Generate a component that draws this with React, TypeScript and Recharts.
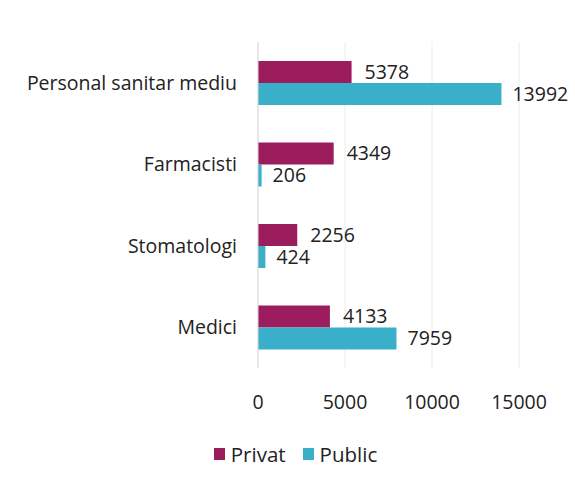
import { BarChart, Bar, XAxis, YAxis, CartesianGrid, Legend, LabelList } from 'recharts';

const categories = ['Personal sanitar mediu', 'Farmacisti', 'Stomatologi', 'Medici'];
const privat = [5378, 4349, 2256, 4133];
const pub = [13992, 206, 424, 7959];
const xTicks = [0, 5000, 10000, 15000];

const data = categories.map((name, i) => ({ name, Privat: privat[i], Public: pub[i] }));

const font = '"Open Sans", sans-serif';

// excel-style legend: small squares, wider gaps than the recharts default
const renderLegend = (props: any) => (
  <div style={{ display: 'flex', justifyContent: 'center', paddingLeft: 33, fontSize: 20.5, fontFamily: font, color: '#222', lineHeight: '28px' }}>
    {props.payload.map((entry: any) => (
      <div key={entry.value} style={{ display: 'flex', alignItems: 'center', marginRight: 17 }}>
        <span style={{ display: 'inline-block', width: 11, height: 12, background: entry.color, marginRight: 6 }} />
        <span>{entry.value}</span>
      </div>
    ))}
  </div>
);

const App = () => {
  return (
    <div style={{ position: 'absolute', left: 0, top: 0, width: 575, height: 483, background: '#fff', fontFamily: font }}>
      <BarChart
        width={575}
        height={483}
        data={data}
        layout="vertical"
        margin={{ top: 42, right: 56, left: 0, bottom: 37 }}
        barCategoryGap={19}
        barGap={0}
      >
        <CartesianGrid horizontal={false} stroke="#ececec" />
        <XAxis
          type="number"
          domain={[0, 15000]}
          ticks={xTicks}
          axisLine={false}
          tickLine={false}
          tickMargin={21}
          tick={{ fill: '#222', fontSize: 19.5, fontFamily: font }}
          height={50}
        />
        <YAxis
          type="category"
          dataKey="name"
          width={258}
          axisLine={{ stroke: '#d9d9d9' }}
          tickLine={false}
          tickMargin={15}
          tick={{ fill: '#222', fontSize: 19.5, fontFamily: font }}
        />
        <Legend content={renderLegend} wrapperStyle={{ top: 440, left: 0, width: 575 }} />
        <Bar dataKey="Privat" fill="#9c1d5e" isAnimationActive={false}>
          <LabelList dataKey="Privat" position="right" offset={13} fill="#222" fontSize={19.5} fontFamily={font} />
        </Bar>
        <Bar dataKey="Public" fill="#3aafca" isAnimationActive={false}>
          <LabelList dataKey="Public" position="right" offset={11} fill="#222" fontSize={19.5} fontFamily={font} />
        </Bar>
      </BarChart>
    </div>
  );
};

export default App;
